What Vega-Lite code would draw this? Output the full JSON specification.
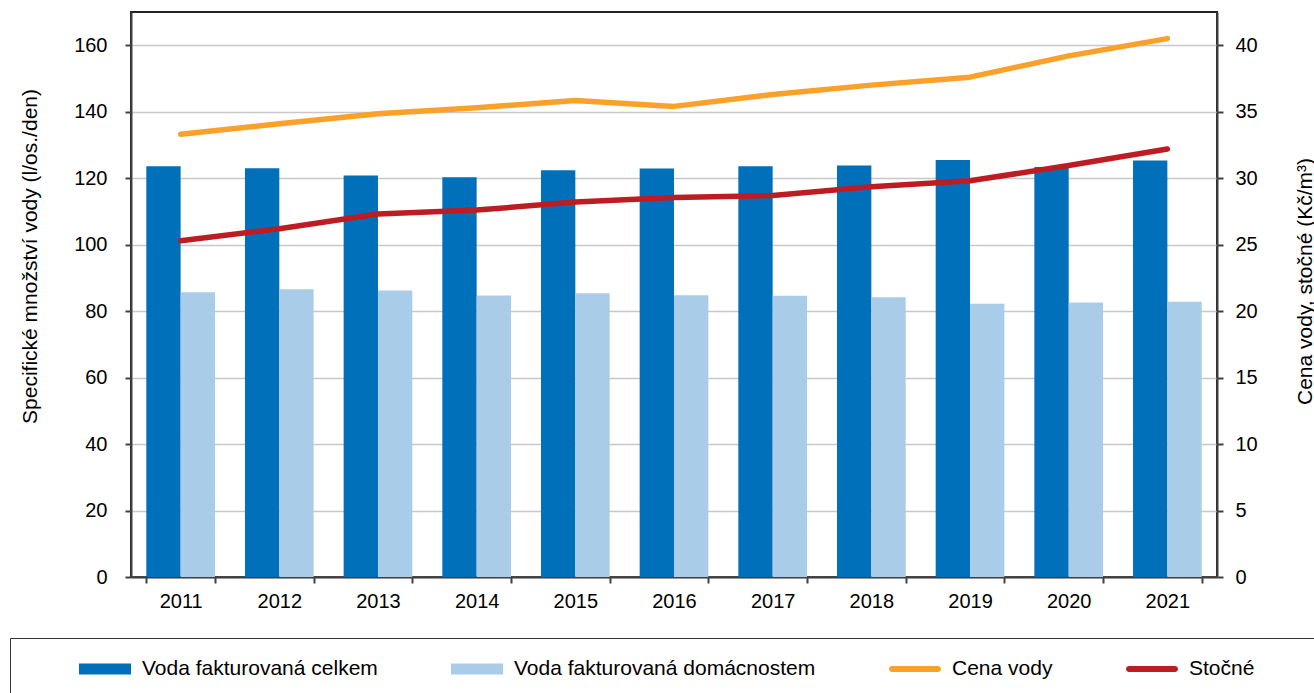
{
  "$schema": "https://vega.github.io/schema/vega-lite/v6.json",
  "width": 1086,
  "height": 565,
  "autosize": {"type": "none"},
  "padding": {"left": 131, "top": 12, "right": 97, "bottom": 116},
  "background": "white",
  "config": {
    "font": "Liberation Sans",
    "view": {"stroke": "#222", "strokeWidth": 2},
    "axis": {
      "labelFont": "Liberation Sans",
      "titleFont": "Liberation Sans",
      "labelColor": "#000",
      "titleColor": "#000",
      "labelFontSize": 20,
      "titleFontSize": 21,
      "titleFontWeight": "normal",
      "domainColor": "#404040",
      "domainWidth": 2,
      "tickColor": "#404040",
      "tickWidth": 2,
      "tickSize": 6
    },
    "legend": {"labelFont": "Liberation Sans"}
  },
  "datasets": {
    "bars": [
      {"year": "2011", "series": "Voda fakturovaná celkem", "value": 123.6},
      {"year": "2012", "series": "Voda fakturovaná celkem", "value": 123.0},
      {"year": "2013", "series": "Voda fakturovaná celkem", "value": 120.8},
      {"year": "2014", "series": "Voda fakturovaná celkem", "value": 120.3},
      {"year": "2015", "series": "Voda fakturovaná celkem", "value": 122.4},
      {"year": "2016", "series": "Voda fakturovaná celkem", "value": 122.9},
      {"year": "2017", "series": "Voda fakturovaná celkem", "value": 123.6},
      {"year": "2018", "series": "Voda fakturovaná celkem", "value": 123.8},
      {"year": "2019", "series": "Voda fakturovaná celkem", "value": 125.5},
      {"year": "2020", "series": "Voda fakturovaná celkem", "value": 123.4},
      {"year": "2021", "series": "Voda fakturovaná celkem", "value": 125.3},
      {"year": "2011", "series": "Voda fakturovaná domácnostem", "value": 85.7},
      {"year": "2012", "series": "Voda fakturovaná domácnostem", "value": 86.6},
      {"year": "2013", "series": "Voda fakturovaná domácnostem", "value": 86.2},
      {"year": "2014", "series": "Voda fakturovaná domácnostem", "value": 84.7},
      {"year": "2015", "series": "Voda fakturovaná domácnostem", "value": 85.4},
      {"year": "2016", "series": "Voda fakturovaná domácnostem", "value": 84.8},
      {"year": "2017", "series": "Voda fakturovaná domácnostem", "value": 84.6},
      {"year": "2018", "series": "Voda fakturovaná domácnostem", "value": 84.2},
      {"year": "2019", "series": "Voda fakturovaná domácnostem", "value": 82.2},
      {"year": "2020", "series": "Voda fakturovaná domácnostem", "value": 82.6},
      {"year": "2021", "series": "Voda fakturovaná domácnostem", "value": 82.8}
    ],
    "lines": [
      {"year": "2011", "series": "Cena vody", "price": 33.3},
      {"year": "2012", "series": "Cena vody", "price": 34.1},
      {"year": "2013", "series": "Cena vody", "price": 34.85},
      {"year": "2014", "series": "Cena vody", "price": 35.3},
      {"year": "2015", "series": "Cena vody", "price": 35.85},
      {"year": "2016", "series": "Cena vody", "price": 35.4},
      {"year": "2017", "series": "Cena vody", "price": 36.3},
      {"year": "2018", "series": "Cena vody", "price": 37.0},
      {"year": "2019", "series": "Cena vody", "price": 37.6},
      {"year": "2020", "series": "Cena vody", "price": 39.2},
      {"year": "2021", "series": "Cena vody", "price": 40.5},
      {"year": "2011", "series": "Stočné", "price": 25.3},
      {"year": "2012", "series": "Stočné", "price": 26.2},
      {"year": "2013", "series": "Stočné", "price": 27.3},
      {"year": "2014", "series": "Stočné", "price": 27.6},
      {"year": "2015", "series": "Stočné", "price": 28.2},
      {"year": "2016", "series": "Stočné", "price": 28.55},
      {"year": "2017", "series": "Stočné", "price": 28.7},
      {"year": "2018", "series": "Stočné", "price": 29.35},
      {"year": "2019", "series": "Stočné", "price": 29.8},
      {"year": "2020", "series": "Stočné", "price": 30.95},
      {"year": "2021", "series": "Stočné", "price": 32.2}
    ]
  },
  "layer": [
    {
      "data": {"name": "bars"},
      "mark": {"type": "bar"},
      "encoding": {
        "x": {
          "field": "year",
          "type": "nominal",
          "sort": null,
          "scale": {"paddingInner": 0.304, "paddingOuter": 0.155},
          "axis": {"title": null, "labelAngle": 0, "tickBand": "extent", "labelPadding": 8, "grid": false}
        },
        "xOffset": {"field": "series", "type": "nominal", "sort": null, "scale": {"paddingInner": 0, "paddingOuter": 0}},
        "y": {
          "field": "value",
          "type": "quantitative",
          "scale": {"domain": [0, 170], "nice": false},
          "axis": {
            "orient": "left",
            "title": "Specifické množství vody (l/os./den)",
            "values": [0, 20, 40, 60, 80, 100, 120, 140, 160],
            "grid": true,
            "gridColor": "#c8c8c8",
            "gridWidth": 1.5,
            "labelPadding": 18,
            "titleX": -101,
            "titleY": 244,
            "titleBaseline": "middle",
            "titleAngle": -90
          }
        },
        "color": {
          "field": "series",
          "type": "nominal",
          "scale": {
            "domain": ["Voda fakturovaná celkem", "Voda fakturovaná domácnostem", "Cena vody", "Stočné", "pad"],
            "range": ["#0070BA", "#A9CDE8", "#F9A12A", "#BE1C23", "rgba(255,255,255,0)"]
          },
          "legend": {
            "orient": "none",
            "legendX": -121,
            "legendY": 626,
            "direction": "horizontal",
            "columns": 5,
            "columnPadding": 73,
            "padding": 5,
            "strokeColor": "#333",
            "title": "\u00a0",
            "titleFontSize": 70,
            "titleOrient": "left",
            "titleAnchor": "start",
            "titleBaseline": "top",
            "titlePadding": 64,
            "labelFontSize": 21,
            "labelColor": "#000",
            "labelOffset": 11,
            "labelLimit": 0,
            "symbolSize": 2704,
            "symbolStrokeWidth": 0,
            "labelExpr": "datum.label == 'pad' ? '' : datum.label",
            "encoding": {
              "symbols": {
                "shape": {
                  "condition": {
                    "test": "datum.value === 'Cena vody' || datum.value === 'Stočné'",
                    "value": "M-0.885,-0.115H0.885A0.115,0.115 0 0 1 0.885,0.115H-0.885A0.115,0.115 0 0 1 -0.885,-0.115Z"
                  },
                  "value": "M-1,-0.21H1V0.21H-1Z"
                }
              }
            }
          }
        }
      }
    },
    {
      "data": {"name": "lines"},
      "mark": {"type": "line", "strokeWidth": 5.5, "strokeCap": "round", "strokeJoin": "round"},
      "encoding": {
        "x": {"field": "year", "type": "nominal", "sort": null},
        "y": {
          "field": "price",
          "type": "quantitative",
          "scale": {"domain": [0, 42.5], "nice": false},
          "axis": {
            "orient": "right",
            "title": "Cena vody, stočné (Kč/m³)",
            "values": [0, 5, 10, 15, 20, 25, 30, 35, 40],
            "grid": false,
            "labelPadding": 12,
            "titleX": 88,
            "titleY": 269,
            "titleBaseline": "middle",
            "titleAngle": -90
          }
        },
        "stroke": {
          "field": "series",
          "type": "nominal",
          "scale": {"domain": ["Cena vody", "Stočné"], "range": ["#F9A12A", "#BE1C23"]},
          "legend": null
        }
      }
    }
  ],
  "resolve": {"scale": {"y": "independent", "color": "independent", "stroke": "independent"}}
}
